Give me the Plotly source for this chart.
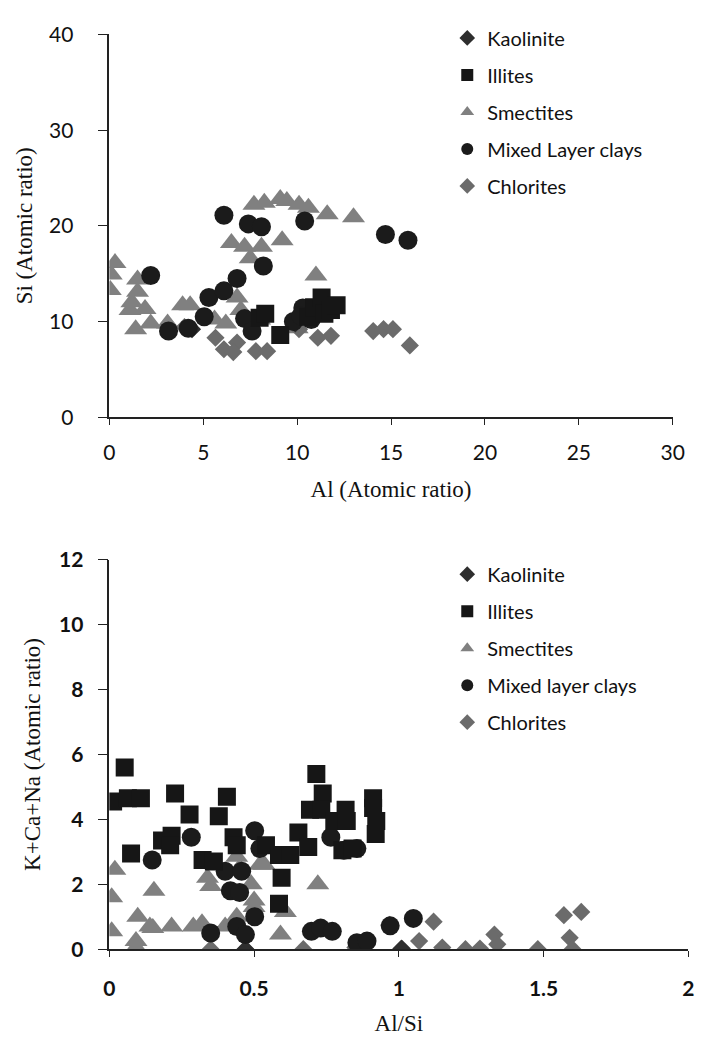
import plotly.graph_objects as go

# ---- Upper panel: Si vs Al (atomic ratio) ----
kao_al = [3.2, 4.4, 9.9]
kao_si = [9.0, 9.2, 9.8]

ill_al = [8.0, 8.3, 9.1, 10.6, 10.9, 11.3, 11.45, 11.8, 12.1]
ill_si = [10.4, 10.8, 8.6, 10.5, 11.5, 12.5, 10.8, 11.2, 11.7]

sme_al = [0.05, 0.1, 0.3, 1.1, 1.2, 1.4, 1.5, 1.5, 1.9, 2.2, 3.1, 3.9, 4.3, 5.6,
          6.2, 6.8, 7.0, 8.0, 10.0, 6.5, 7.2, 8.1, 9.2, 7.5, 7.7, 8.25, 9.1,
          9.45, 10.1, 10.6, 11.6, 13.0, 11.0]
sme_si = [13.3, 14.9, 16.1, 11.2, 12.0, 9.2, 14.4, 13.1, 11.3, 9.8, 9.8, 11.7, 11.7, 10.2,
          9.8, 12.5, 11.2, 10.2, 9.3, 18.2, 17.8, 17.8, 18.5, 16.6, 22.2, 22.4, 22.8,
          22.6, 22.2, 21.9, 21.2, 20.9, 14.8]

mix_al = [2.2, 3.15, 4.2, 5.05, 5.3, 6.1, 6.8, 8.2, 6.1, 7.4, 8.1, 10.4, 14.7, 15.9,
          7.2, 7.6, 9.8, 10.3, 10.75, 10.2]
mix_si = [14.8, 9.0, 9.3, 10.5, 12.5, 13.2, 14.5, 15.8, 21.1, 20.2, 19.9, 20.5, 19.1, 18.5,
          10.3, 9.0, 10.0, 11.4, 10.2, 10.6]

chl_al = [4.0, 5.65, 6.1, 6.8, 6.6, 7.8, 8.4, 10.1, 11.1, 11.8, 14.05, 14.6, 15.1, 16.0]
chl_si = [9.4, 8.3, 7.1, 7.8, 6.8, 6.9, 6.9, 9.2, 8.3, 8.5, 9.0, 9.2, 9.2, 7.5]

# ---- Lower panel: K+Ca+Na vs Al/Si ----
kao_r = [0.47, 1.01]
kao_k = [0.0, 0.02]

ill_r = [0.053, 0.013, 0.064, 0.109, 0.227, 0.277, 0.406, 0.378, 0.075, 0.182, 0.215,
         0.21, 0.322, 0.361, 0.429, 0.44, 0.541, 0.586, 0.625, 0.653, 0.687, 0.595,
         0.586, 0.715, 0.737, 0.693, 0.732, 0.816, 0.777, 0.82, 0.911, 0.911, 0.922,
         0.92, 0.805, 0.84]
ill_k = [5.6, 4.55, 4.65, 4.65, 4.8, 4.15, 4.7, 4.1, 2.95, 3.35, 3.5,
         3.2, 2.75, 2.7, 3.45, 3.2, 3.2, 2.9, 2.9, 3.6, 3.15, 2.2,
         1.4, 5.4, 4.8, 4.3, 4.3, 4.3, 3.95, 3.95, 4.65, 4.35, 3.95,
         3.55, 3.05, 3.1]

sme_r = [0.019, 0.008, 0.008, 0.092, 0.092, 0.098, 0.154, 0.14, 0.15, 0.215, 0.29,
         0.32, 0.339, 0.35, 0.4, 0.44, 0.44, 0.49, 0.5, 0.535, 0.591, 0.608, 0.72,
         0.45, 0.52, 0.5]
sme_k = [2.45, 1.6, 0.55, 0.25, 0.05, 1.0, 1.8, 0.7, 0.65, 0.7, 0.7,
         0.8, 2.2, 1.95, 0.7, 1.0, 2.85, 2.0, 1.3, 2.6, 0.45, 1.15, 2.0,
         2.5, 2.6, 1.5]

mix_r = [0.283, 0.148, 0.502, 0.52, 0.4, 0.457, 0.418, 0.45, 0.765, 0.81, 0.855,
         0.35, 0.44, 0.47, 0.502, 0.698, 0.73, 0.77, 0.855, 0.89, 1.05, 0.97]
mix_k = [3.45, 2.75, 3.65, 3.1, 2.4, 2.4, 1.8, 1.75, 3.45, 3.05, 3.1,
         0.5, 0.7, 0.45, 1.0, 0.55, 0.65, 0.55, 0.2, 0.25, 0.95, 0.72]

chl_r = [0.35, 0.47, 0.67, 0.85, 0.967, 1.007, 1.07, 1.12, 1.15, 1.23, 1.28, 1.33,
         1.34, 1.48, 1.57, 1.63, 1.59, 1.6]
chl_k = [0.0, 0.0, 0.0, 0.05, 0.75, 0.0, 0.25, 0.85, 0.05, 0.0, 0.02, 0.45,
         0.15, 0.0, 1.05, 1.15, 0.35, 0.0]

names_top = ["Kaolinite", "Illites", "Smectites", "Mixed Layer clays", "Chlorites"]
names_bot = ["Kaolinite", "Illites", "Smectites", "Mixed layer clays", "Chlorites"]
symbols = ["diamond", "square", "triangle-up", "circle", "diamond"]
colors = ["#2e2e2e", "#161616", "#808080", "#1b1b1b", "#6b6b6b"]
sizes = [14, 18, 20, 19, 14]

top_sets = [(kao_al, kao_si), (ill_al, ill_si), (sme_al, sme_si), (mix_al, mix_si), (chl_al, chl_si)]
bot_sets = [(kao_r, kao_k), (ill_r, ill_k), (sme_r, sme_k), (mix_r, mix_k), (chl_r, chl_k)]

# draw order: smectites first, then the rest so dark markers sit on top
order = [2, 4, 0, 3, 1]

fig = go.Figure()
for i in order:
    x, y = top_sets[i]
    fig.add_trace(go.Scatter(
        x=x, y=y, mode="markers", name=names_top[i],
        marker=dict(symbol=symbols[i], color=colors[i], size=sizes[i], line=dict(width=0)),
        xaxis="x", yaxis="y", legend="legend", legendgroup="t%d" % i,
        legendrank=i + 1,
    ))
for i in order:
    x, y = bot_sets[i]
    fig.add_trace(go.Scatter(
        x=x, y=y, mode="markers", name=names_bot[i],
        marker=dict(symbol=symbols[i], color=colors[i], size=sizes[i], line=dict(width=0)),
        xaxis="x2", yaxis="y2", legend="legend2", legendgroup="b%d" % i,
        legendrank=i + 1,
    ))

tick_font = dict(family="Lato, sans-serif", size=21, color="#111")
tick_font_b = dict(family="Lato, sans-serif", size=21, color="#111", weight="bold")
title_font = dict(family="Liberation Serif, serif", size=23, color="#111")

axis_common = dict(showgrid=False, zeroline=False, showline=True, linecolor="#222",
                   linewidth=1.5, ticks="outside", tickcolor="#222", mirror=False)

legend_common = dict(
    font=dict(family="Lato, sans-serif", size=20, color="#111"),
    bgcolor="rgba(0,0,0,0)", traceorder="grouped", tracegroupgap=8,
    itemsizing="constant", itemwidth=30, xanchor="left", yanchor="top",
)

fig.update_layout(
    width=714, height=1049,
    margin=dict(l=0, r=0, t=0, b=0),
    paper_bgcolor="white", plot_bgcolor="white",
    showlegend=True,
    xaxis=dict(domain=[0.1485, 0.958], range=[0, 30], dtick=5, anchor="y",
               tickfont=tick_font, ticklen=6, ticklabelstandoff=10,
               title=dict(text="Al (Atomic ratio)", font=title_font, standoff=18),
               **axis_common),
    yaxis=dict(domain=[0.6063, 0.98], range=[0, 40], dtick=10, anchor="x",
               tickfont=tick_font, ticklen=10, ticklabelstandoff=20,
               title=dict(text="Si (Atomic ratio)", font=title_font, standoff=10),
               **axis_common),
    xaxis2=dict(domain=[0.1485, 0.9804], range=[0, 2], dtick=0.5, anchor="y2",
                tickfont=tick_font_b, ticklen=6, ticklabelstandoff=14, tickformat="~g",
                title=dict(text="Al/Si", font=title_font, standoff=16),
                **axis_common),
    yaxis2=dict(domain=[0.0867, 0.467], range=[0, 12], dtick=2, anchor="x2",
                tickfont=tick_font_b, ticklen=10, ticklabelstandoff=10,
                title=dict(text="K+Ca+Na (Atomic ratio)", font=title_font, standoff=12),
                **axis_common),
    legend=dict(x=0.634, y=0.9957, **legend_common),
    legend2=dict(x=0.634, y=0.472, **legend_common),
)

fig.write_html("out.html")
